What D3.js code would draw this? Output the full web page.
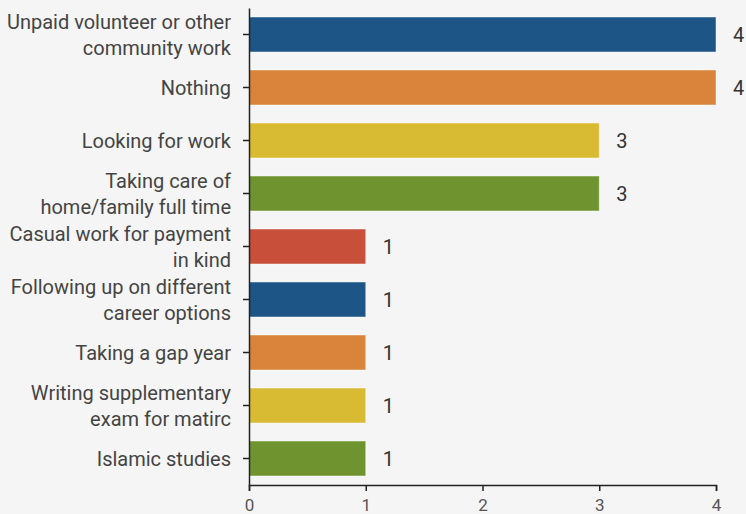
<!DOCTYPE html>
<html>
<head>
<meta charset="utf-8">
<script src="https://cdn.jsdelivr.net/npm/d3@7"></script>
<style>
  html, body { margin: 0; padding: 0; background: #f5f5f5; }
  svg { display: block; }
  text { font-family: Roboto, "Noto Sans", sans-serif; }
</style>
</head>
<body>
<svg id="chart" width="746" height="514"></svg>
<script>
// Activities reported, with counts
const categories = [
  ["Unpaid volunteer or other", "community work"],
  ["Nothing"],
  ["Looking for work"],
  ["Taking care of", "home/family full time"],
  ["Casual work for payment", "in kind"],
  ["Following up on different", "career options"],
  ["Taking a gap year"],
  ["Writing supplementary", "exam for matirc"],
  ["Islamic studies"]
];
const values = [4, 4, 3, 3, 1, 1, 1, 1, 1];
const xTicks = [0, 1, 2, 3, 4];
const palette = ["#1d5587", "#d9843a", "#d8bb33", "#6f942f", "#c84f3a"];
const colorOrder = [0, 1, 2, 3, 4, 0, 1, 2, 3];

const width = 746, height = 514;
const margin = { top: 8, right: 30, bottom: 29, left: 249 };
const innerW = width - margin.left - margin.right;
const innerH = height - margin.top - margin.bottom;

const svg = d3.select("#chart");
const g = svg.append("g").attr("transform", `translate(${margin.left},${margin.top})`);

const x = d3.scaleLinear().domain([0, 4]).range([0, 467]);
const y = d3.scaleBand()
  .domain(d3.range(categories.length))
  .range([0, innerH])
  .paddingInner(0.34)
  .paddingOuter(0.17);

// bars
g.selectAll("rect.bar")
  .data(values)
  .join("rect")
  .attr("class", "bar")
  .attr("x", 0)
  .attr("y", (d, i) => y(i))
  .attr("width", d => x(d))
  .attr("height", y.bandwidth())
  .attr("fill", (d, i) => palette[colorOrder[i]])
  .attr("stroke", "rgba(255,255,255,0.45)")
  .attr("stroke-width", 1);

// value labels
g.selectAll("text.val")
  .data(values)
  .join("text")
  .attr("class", "val")
  .attr("x", d => x(d) + 17)
  .attr("y", (d, i) => y(i) + y.bandwidth() / 2)
  .attr("dy", "0.35em")
  .attr("fill", "#333")
  .style("font-size", "20px")
  .text(d => d);

// x axis
const xAxis = g.append("g")
  .attr("transform", `translate(0,${innerH})`)
  .call(d3.axisBottom(x).tickValues(xTicks).tickFormat(d3.format("d")).tickSizeOuter(6).tickSize(6));
xAxis.select(".domain").attr("stroke", "#222").attr("stroke-width", 1.5);
xAxis.selectAll(".tick line").attr("stroke", "#222").attr("stroke-width", 1.5);
xAxis.selectAll(".tick text")
  .attr("fill", "#555")
  .attr("y", 14)
  .attr("dy", "0.71em")
  .style("font-size", "17px")
  .style("font-family", "Roboto, sans-serif");

// y axis
const yAxis = g.append("g")
  .call(d3.axisLeft(y).tickSize(6).tickSizeOuter(0).tickFormat(""));
yAxis.select(".domain").attr("stroke", "#222").attr("stroke-width", 1.5);
yAxis.selectAll(".tick line").attr("stroke", "#222").attr("stroke-width", 1.5);

// category labels (one or two lines)
const lineH = 26;
const labels = g.selectAll("text.cat")
  .data(categories)
  .join("text")
  .attr("class", "cat")
  .attr("text-anchor", "end")
  .attr("fill", "#444")
  .style("font-size", "20px")
  .attr("transform", (d, i) => `translate(-18,${y(i) + y.bandwidth() / 2})`);
labels.selectAll("tspan")
  .data(d => d.map((t, k) => ({ t, k, n: d.length })))
  .join("tspan")
  .attr("x", 0)
  .attr("y", d => (d.k - (d.n - 1) / 2) * lineH)
  .attr("dy", "0.35em")
  .text(d => d.t);
</script>
</body>
</html>
